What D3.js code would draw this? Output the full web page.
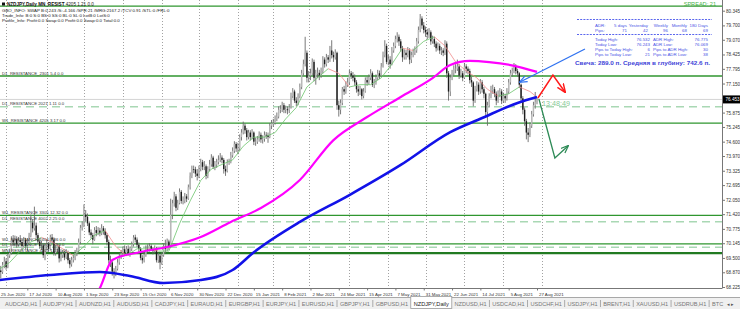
<!DOCTYPE html>
<html lang="en">
<head>
<meta charset="UTF-8">
<title>NZDJPY,Daily</title>
<script src="https://d3js.org/d3.v7.min.js"></script>
<style>
  body { margin: 0; padding: 0; background: #fff; }
  svg { display: block; font-family: "Liberation Sans", Arial, sans-serif; }
</style>
</head>
<body>
<div id="chart"></div>
<script>
// ---- data ----
// daily bars, first bar = 25 Jun 2020, last = 27 Aug 2021 (open = previous close)
const firstOpen = 69.10;
const closes = [
  68.95,68.88,69.20,69.35,69.10,69.60,69.72,70.30,70.18,70.32,
  70.10,70.28,70.20,70.02,70.30,70.00,70.12,70.48,71.05,70.80,
  70.92,70.50,70.22,70.02,70.05,69.62,70.00,70.12,69.90,70.40,
  70.30,69.72,69.90,70.02,69.48,69.62,69.70,69.52,69.72,69.40,
  69.22,69.42,69.50,69.70,69.80,70.20,70.82,70.92,71.40,71.30,
  71.02,70.62,70.50,70.30,70.72,70.60,70.70,70.58,70.80,70.68,
  70.50,70.20,69.40,69.30,68.90,68.82,69.02,69.30,69.58,69.70,
  69.88,69.70,69.90,69.72,69.90,70.10,70.40,70.30,70.08,69.90,
  69.50,69.40,69.62,69.90,69.88,70.02,69.90,69.80,69.92,69.40,
  69.60,69.30,69.62,70.00,69.90,70.22,70.02,71.40,71.90,72.20,
  71.70,71.90,72.40,72.00,72.02,72.20,72.10,72.60,73.10,73.40,
  73.38,73.20,73.10,73.40,73.70,73.50,73.52,73.10,73.40,73.60,
  73.90,73.50,73.60,73.70,73.80,73.90,73.80,73.40,73.30,73.70,
  73.72,74.00,74.20,74.50,74.30,74.30,74.80,75.00,75.30,75.10,
  74.80,75.00,74.80,75.00,74.60,74.60,74.70,74.90,74.70,74.72,
  74.90,74.88,74.80,75.30,75.40,75.42,75.60,75.70,76.00,76.02,
  76.20,76.00,76.02,75.98,76.10,76.60,76.80,76.40,76.30,76.60,
  77.00,77.60,78.00,78.50,77.40,77.50,77.60,78.10,77.40,77.60,
  77.62,77.50,77.70,78.20,78.00,78.30,78.20,78.60,78.40,78.30,
  78.50,76.20,76.00,76.30,76.90,76.80,77.10,77.20,77.60,77.50,
  77.40,77.20,76.90,76.80,76.90,76.60,76.80,77.30,77.20,77.40,
  77.60,77.10,77.20,77.40,77.60,77.50,77.90,78.40,78.80,78.10,
  78.20,78.00,78.60,78.80,79.10,79.20,79.00,78.70,78.30,78.50,
  78.40,78.60,78.20,78.40,78.50,78.60,79.00,79.50,80.00,79.70,
  79.50,79.40,79.30,79.40,79.00,79.10,78.90,78.70,78.80,78.60,
  78.60,78.50,78.90,77.60,76.80,77.40,77.60,77.80,77.80,77.90,
  77.50,77.60,77.40,77.90,77.80,77.70,77.30,77.20,76.40,76.90,
  77.10,76.80,77.20,76.90,76.70,75.90,76.20,76.60,76.90,76.90,
  76.70,76.40,76.70,76.80,76.40,76.60,76.50,76.80,77.20,77.60,
  77.70,77.90,77.70,77.60,77.10,76.50,76.00,75.50,75.00,74.90,
  75.30,75.80,76.20,76.35,76.45
];
const highs = [
  69.30,69.15,69.32,69.55,69.48,69.70,69.90,70.45,70.50,70.48,
  70.45,70.42,70.50,70.30,70.42,70.38,70.28,70.60,71.40,71.20,
  71.75,71.05,70.60,70.35,70.25,70.12,70.15,70.30,70.20,70.52,
  70.55,70.40,70.05,70.15,70.10,69.75,69.85,69.80,69.88,69.82,
  69.50,69.55,69.65,69.85,69.95,70.35,70.95,71.10,71.85,71.60,
  71.45,71.10,70.75,70.60,70.85,70.90,70.85,70.82,70.98,70.90,
  70.80,70.60,70.30,69.60,69.40,69.05,69.15,69.45,69.70,69.85,
  70.00,70.05,70.02,70.05,70.00,70.22,70.50,70.52,70.40,70.18,
  69.98,69.62,69.75,70.05,70.10,70.15,70.10,69.98,70.05,69.98,
  69.72,69.68,69.75,70.15,70.30,70.35,70.30,72.10,72.05,72.40,
  72.30,72.05,72.55,72.48,72.20,72.35,72.30,72.72,73.25,73.55,
  73.55,73.50,73.40,73.55,73.85,73.80,73.75,73.60,73.52,73.80,
  74.05,73.98,73.75,73.85,74.00,74.10,74.00,73.88,73.55,73.82,
  73.85,74.15,74.35,74.62,74.58,74.55,74.92,75.15,75.48,75.40,
  75.20,75.12,75.10,75.15,75.05,74.78,74.85,75.05,75.00,74.88,
  75.05,75.02,75.00,75.42,75.55,75.60,75.75,75.88,76.15,76.20,
  76.35,76.30,76.18,76.15,76.25,76.75,76.95,76.88,76.55,76.72,
  77.15,77.75,78.20,79.20,78.60,77.70,77.80,78.25,78.20,77.75,
  77.85,77.75,77.85,78.35,78.30,78.45,78.40,78.80,79.05,78.55,
  78.65,78.55,76.40,76.45,77.00,77.05,77.25,77.40,77.75,77.70,
  77.65,77.55,77.30,77.05,77.05,76.95,76.95,77.42,77.45,77.55,
  77.78,77.68,77.35,77.55,77.75,77.72,78.05,78.55,79.05,78.90,
  78.40,78.35,78.75,78.95,79.25,79.40,79.30,79.10,78.80,78.65,
  78.62,78.75,78.70,78.55,78.68,78.78,79.15,79.65,80.20,80.10,
  79.85,79.65,79.55,79.58,79.48,79.25,79.20,79.00,78.95,78.90,
  78.75,78.70,79.05,79.00,77.70,77.55,77.75,77.95,78.00,78.20,
  78.00,77.80,77.70,78.05,78.00,77.90,77.80,77.45,77.25,77.05,
  77.25,77.20,77.35,77.30,77.00,76.75,76.35,76.72,77.05,77.10,
  77.00,76.80,76.85,76.95,76.90,76.75,76.70,76.95,77.35,77.75,
  77.85,78.05,78.00,77.80,77.65,77.15,76.60,76.10,75.60,75.20,
  75.45,75.95,76.35,76.78,76.53
];
const lows = [
  68.62,68.60,68.80,69.05,68.98,69.05,69.50,69.65,70.05,70.02,
  69.95,70.00,70.08,69.88,69.95,69.90,69.85,70.05,70.40,70.62,
  70.70,70.38,70.10,69.90,69.85,69.50,69.40,69.85,69.78,69.82,
  70.15,69.60,69.60,69.75,69.30,69.35,69.50,69.40,69.45,69.25,
  69.05,69.12,69.30,69.40,69.58,69.70,70.10,70.70,70.85,71.10,
  70.90,70.50,70.35,70.10,70.25,70.45,70.50,70.45,70.50,70.52,
  70.35,70.05,69.25,69.10,68.72,68.60,68.70,68.95,69.20,69.45,
  69.55,69.58,69.60,69.60,69.55,69.80,70.00,70.18,69.98,69.75,
  69.40,69.25,69.30,69.55,69.75,69.78,69.80,69.65,69.70,69.30,
  69.28,69.00,69.20,69.55,69.70,69.80,69.85,69.95,71.20,71.75,
  71.55,71.60,71.85,71.88,71.85,71.90,71.95,72.05,72.50,73.00,
  73.22,73.05,72.90,73.00,73.30,73.35,73.35,72.95,73.00,73.30,
  73.50,73.40,73.35,73.45,73.60,73.70,73.65,73.20,73.10,73.25,
  73.58,73.65,73.90,74.10,74.15,74.05,74.20,74.65,74.92,74.95,
  74.65,74.70,74.65,74.70,74.45,74.42,74.50,74.60,74.55,74.52,
  74.60,74.72,74.55,74.75,75.15,75.25,75.35,75.50,75.62,75.85,
  75.90,75.85,75.85,75.80,75.85,76.05,76.50,76.30,76.15,76.20,
  76.50,76.90,77.50,77.90,77.20,77.20,77.30,77.50,77.25,77.10,
  77.40,77.30,77.40,77.60,77.85,77.90,78.05,78.10,78.25,78.10,
  78.20,76.00,75.70,75.80,76.20,76.65,76.70,77.00,77.10,77.35,
  77.25,77.05,76.75,76.60,76.65,76.45,76.50,76.75,77.05,77.10,
  77.30,77.00,76.95,77.10,77.30,77.35,77.45,77.85,78.30,78.00,
  77.95,77.80,77.95,78.50,78.70,78.95,78.80,78.55,78.10,78.20,
  78.20,78.30,78.00,78.05,78.30,78.40,78.50,78.90,79.40,79.55,
  79.35,79.20,79.10,79.15,78.85,78.90,78.75,78.55,78.60,78.45,
  78.40,78.35,78.40,77.40,76.40,76.60,77.30,77.50,77.60,77.70,
  77.35,77.40,77.25,77.35,77.60,77.55,77.15,77.00,76.15,76.30,
  76.80,76.65,76.70,76.75,76.50,75.70,75.30,76.10,76.50,76.70,
  76.55,76.20,76.30,76.55,76.25,76.30,76.30,76.40,76.70,77.10,
  77.45,77.60,77.55,77.45,76.95,76.35,75.80,75.30,74.70,74.58,
  74.80,75.20,75.70,76.05,76.24
];
const lastPrice = "76.453";

// time labels, one every 16 bars
const dateLabels = ["25 Jun 2020","17 Jul 2020","10 Aug 2020","1 Sep 2020","23 Sep 2020",
  "15 Oct 2020","6 Nov 2020","30 Nov 2020","22 Dec 2020","15 Jan 2021","8 Feb 2021",
  "2 Mar 2021","24 Mar 2021","15 Apr 2021","7 May 2021","31 May 2021","22 Jun 2021",
  "14 Jul 2021","5 Aug 2021","27 Aug 2021"];
// first bar of each month (bar index) -> dotted grid
const monthGrid = [4, 27, 48, 70, 92, 113, 135, 155, 175, 198, 220, 241, 263, 285, 307];
const priceTicks = ["80.345","79.700","79.070","78.425","77.795","77.150","76.520","75.875",
  "75.245","74.600","73.970","73.325","72.695","72.050","71.420","70.775","70.145",
  "69.500","68.870","68.225"];

// moving averages, [bar, price]
const maSlow = [[0,68.53],[29,68.75],[57,68.88],[74,68.71],[93,68.40],[114,68.53],[132,68.97],
  [144,69.75],[170,71.08],[198,72.26],[227,73.58],[255,75.02],[273,75.64],[293,76.30],[304,76.56]];
const maMid = [[46,67.26],[57,68.18],[64,69.41],[80,69.76],[95,69.98],[114,70.42],[131,71.08],
  [148,71.69],[170,72.92],[189,74.67],[208,75.68],[227,76.56],[245,77.39],[255,77.96],
  [266,78.14],[277,78.09],[289,77.96],[304,77.66]];
const maFast = [[0,69.0],[6,69.3],[12,69.8],[18,70.2],[24,70.4],[30,70.2],[36,69.9],[42,69.6],
  [48,70.0],[54,70.5],[60,70.7],[66,70.0],[72,69.6],[78,69.9],[84,69.9],[90,69.8],[96,69.8],
  [102,71.0],[108,72.0],[114,72.9],[120,73.4],[126,73.6],[132,73.8],[138,74.4],[144,74.8],
  [150,74.8],[156,75.0],[162,75.6],[168,76.1],[174,77.0],[180,77.4],[186,77.8],[192,77.6],
  [198,77.0],[204,77.1],[210,77.1],[216,77.4],[222,78.0],[228,78.7],[234,78.6],[240,79.0],
  [246,79.2],[252,78.8],[258,78.1],[264,77.7],[270,77.4],[276,76.9],[282,76.6],[288,76.7],
  [294,77.0],[300,76.8],[304,76.55]];

// support / resistance levels
const solidLevels = [80.55, 77.48, 75.41, 71.37, 70.12];
const majorLevels = [69.71];
const dashedLevels = [76.13, 71.09, 69.97];
const levelLabels = [
  ["D1_RESISTANCE_2301 5.4 0.0", 77.48], ["D1_RESISTANCE 2021 1.11 0.0", 76.13],
  ["W1_RESISTANCE 4205 3.17 0.0", 75.41], ["W1_RESISTANCE 3305 12.32 0.0", 71.37],
  ["D1_RESISTANCE 4002 2.25 0.0", 71.09], ["W1_RESISTANCE 2404 1.86 0.0", 70.12],
  ["D1_RESISTANCE 1207 0.92 0.0", 69.97], ["MN_RESISTANCE 4205 1.21 0.0", 69.71]];

// hand-drawn arrows, [bar, price]
const arrowBlue = [[331.1,78.665],[294.4,77.217]];
const arrowRed = [[304.5,76.515],[313,77.524],[319.8,76.78]];
const arrowGreen = [[305.1,76.471],[314.1,73.884],[321.5,74.41]];

// info panel
const adrHead = ["5 days","Yesterday","Weekly","Monthly","180 Days"];
const adrPips = ["71","42","96","68","69"];
const infoRows = [
  ["Today High:","76.532","ADR High:","76.775"],
  ["Today Low:","76.243","ADR Low:","76.069"],
  ["Pips to Today High:","6","Pips to ADR High:","30"],
  ["Pips to Today Low:","21","Pips to ADR Low:","38"]];
const candleLine = "Свеча: 289.0 п. Средняя в глубину: 742.6 п.";
const headerLines = [
  "GBO_INFO: SWAP B:0.243 /S:-4.166 /SPR:21 /MRG:2167.2 /TCV:0.91 /STL:0 /FRL:0",
  "Trade_Info: B:0 S:0 BS:0 SS:0 BL:0 SL:0 LotB:0 LotS:0",
  "Profile_Info: Profit:0.0 Swap:0.0 Profit:0.0 Swap:0.0 Total:0.0"];
const tabs = ["AUDCAD,H1","AUDJPY,H1","AUDNZD,H1","AUDUSD,H1","CADJPY,H1","EURAUD,H1",
  "EURGBP,H1","EURJPY,H1","EURUSD,H1","GBPJPY,H1","GBPUSD,H1","NZDJPY,Daily","NZDUSD,H1",
  "USDCAD,H1","USDCHF,H1","USDJPY,H1","BRENT,H1","XAUUSD,H1","USDRUB,H1","BTC"];
const activeTab = "NZDJPY,Daily";

// ---- drawing ----
const W = 740, H = 309;
const plotR = 722, plotB = 288;

const x = d3.scaleLinear().domain([0, 304]).range([-1, 537]);
const y = d3.scaleLinear().domain([68.225, 80.345]).range([287, 10.7]);

const svg = d3.select("#chart").append("svg").attr("width", W).attr("height", H);
svg.append("rect").attr("width", W).attr("height", H).attr("fill", "#fff");

const defs = svg.append("defs");
defs.append("clipPath").attr("id", "plotClip")
  .append("rect").attr("x", 0).attr("y", 0).attr("width", plotR).attr("height", plotB);
[["hBlue","#2f72f0"],["hRed","#ff1a1a"],["hGreen","#2e8b57"]].forEach(([id, col]) => {
  defs.append("marker").attr("id", id).attr("viewBox", "0 0 10 10").attr("refX", 9).attr("refY", 5)
    .attr("markerWidth", 6).attr("markerHeight", 6).attr("orient", "auto")
    .append("path").attr("d", "M0,1 L10,5 L0,9").attr("fill", "none").attr("stroke", col).attr("stroke-width", 1.6);
});

const g = svg.append("g").attr("clip-path", "url(#plotClip)");

// dotted month grid
g.selectAll("line.vgrid").data(monthGrid).join("line")
  .attr("x1", d => Math.round(x(d)) + 0.5).attr("x2", d => Math.round(x(d)) + 0.5)
  .attr("y1", 0).attr("y2", plotB)
  .attr("stroke", "#8a8a8a").attr("stroke-width", 0.8).attr("stroke-dasharray", "1,2");

// levels
g.selectAll("line.dash").data(dashedLevels).join("line")
  .attr("x1", 0).attr("x2", plotR).attr("y1", d => y(d)).attr("y2", d => y(d))
  .attr("stroke", "#a9d8b4").attr("stroke-width", 1.6).attr("stroke-dasharray", "8,5");
g.selectAll("line.solid").data(solidLevels).join("line")
  .attr("x1", 0).attr("x2", plotR).attr("y1", d => y(d)).attr("y2", d => y(d))
  .attr("stroke", "#2f962f").attr("stroke-width", 1.3);
g.selectAll("line.major").data(majorLevels).join("line")
  .attr("x1", 0).attr("x2", plotR).attr("y1", d => y(d)).attr("y2", d => y(d))
  .attr("stroke", "#217a21").attr("stroke-width", 2.4);

// current price line
g.append("line").attr("x1", 0).attr("x2", plotR)
  .attr("y1", y(+lastPrice)).attr("y2", y(+lastPrice))
  .attr("stroke", "#c8c8c8").attr("stroke-width", 0.8);

// candles
const bars = closes.map((c, i) => ({ i, o: i ? closes[i - 1] : firstOpen, h: highs[i], l: lows[i], c }));
g.selectAll("line.wick").data(bars).join("line")
  .attr("x1", d => x(d.i)).attr("x2", d => x(d.i))
  .attr("y1", d => y(d.h)).attr("y2", d => y(d.l))
  .attr("stroke", "#6a6a6a").attr("stroke-width", 0.9);
g.selectAll("rect.body").data(bars).join("rect")
  .attr("x", d => x(d.i) - 0.7).attr("width", 1.4)
  .attr("y", d => y(Math.max(d.o, d.c)))
  .attr("height", d => Math.max(0.7, Math.abs(y(d.o) - y(d.c))))
  .attr("fill", d => d.c >= d.o ? "#b8b8b8" : "#1c1c1c");

// moving averages
const line = d3.line().x(d => x(d[0])).y(d => y(d[1])).curve(d3.curveMonotoneX);
for (let k = 1; k < maFast.length; k++) {
  const seg = [maFast[k - 1], maFast[k]];
  g.append("path").attr("d", d3.line().x(d => x(d[0])).y(d => y(d[1]))(seg))
    .attr("fill", "none").attr("stroke-width", 0.8)
    .attr("stroke", seg[1][1] >= seg[0][1] ? "#6cc46c" : "#f08a8a");
}
g.append("path").attr("d", line(maMid)).attr("fill", "none")
  .attr("stroke", "#ff00ff").attr("stroke-width", 2.2);
g.append("path").attr("d", line(maSlow)).attr("fill", "none")
  .attr("stroke", "#1212e8").attr("stroke-width", 2.6);

// level labels (nudged up so close levels don't collide)
const lblY = levelLabels.map(d => y(d[1]) - 1.5);
const order = d3.range(lblY.length).sort((a, b) => lblY[b] - lblY[a]);
for (let k = 1; k < order.length; k++) {
  const prev = lblY[order[k - 1]], cur = order[k];
  if (prev - lblY[cur] < 4.8) lblY[cur] = prev - 4.8;
}
g.selectAll("text.lvl").data(levelLabels).join("text")
  .attr("x", 2).attr("y", (d, i) => lblY[i])
  .attr("font-size", 4.3).attr("fill", "#333").text(d => d[0]);

// arrows
const aLine = d3.line().x(d => x(d[0])).y(d => y(d[1]));
g.append("path").attr("d", aLine(arrowBlue)).attr("fill", "none")
  .attr("stroke", "#2f72f0").attr("stroke-width", 1.3).attr("marker-end", "url(#hBlue)");
g.append("path").attr("d", aLine(arrowRed)).attr("fill", "none")
  .attr("stroke", "#ff1a1a").attr("stroke-width", 1.5).attr("marker-end", "url(#hRed)");
g.append("path").attr("d", aLine(arrowGreen)).attr("fill", "none")
  .attr("stroke", "#2e8b57").attr("stroke-width", 1.3).attr("marker-end", "url(#hGreen)");

// countdown
g.append("text").attr("x", x(304) + 5).attr("y", y(+lastPrice) + 6.5)
  .attr("font-size", 7.2).attr("fill", "#86c995").text("13:48:49");

// header texts
svg.append("rect").attr("x", 2).attr("y", 2.5).attr("width", 3).attr("height", 3).attr("fill", "#111");
const h0 = svg.append("text").attr("x", 7).attr("y", 6.3).attr("font-size", 4.6).attr("fill", "#222");
h0.append("tspan").attr("font-weight", "bold").attr("fill", "#111").text("NZDJPY,Daily MN_RESIST");
h0.append("tspan").text("  4205 1.21 0.0");
svg.selectAll("text.hdr").data(headerLines).join("text")
  .attr("x", 2).attr("y", (d, i) => 12 + i * 5.2).attr("font-size", 4.4).attr("fill", "#222")
  .text(d => d);

svg.append("text").attr("x", 716).attr("y", 6).attr("text-anchor", "end")
  .attr("font-size", 5.6).attr("fill", "#45b045").text("SPREAD: 21");

// info panel
const panel = svg.append("g").attr("fill", "#4a55e6").attr("font-size", 4.4);
[19.5, 34.5].forEach(yy => svg.append("line").attr("x1", 577).attr("x2", 712)
  .attr("y1", yy).attr("y2", yy).attr("stroke", "#5a66ee").attr("stroke-width", 1.1)
  .attr("stroke-dasharray", "2,1.2"));
panel.append("text").attr("x", 595).attr("y", 26.5).text("ADR:");
panel.append("text").attr("x", 595).attr("y", 31.5).text("Pips:");
const colRight = [627, 648, 668, 687, 708];
adrHead.forEach((t, k) => panel.append("text").attr("x", colRight[k]).attr("y", 26.5)
  .attr("text-anchor", "end").text(t));
adrPips.forEach((t, k) => panel.append("text").attr("x", colRight[k]).attr("y", 31.5)
  .attr("text-anchor", "end").text(t));
infoRows.forEach((r, k) => {
  const yy = 40.7 + k * 5.1;
  panel.append("text").attr("x", 595).attr("y", yy).text(r[0]);
  panel.append("text").attr("x", 650).attr("y", yy).attr("text-anchor", "end").text(r[1]);
  panel.append("text").attr("x", 653).attr("y", yy).text(r[2]);
  panel.append("text").attr("x", 708).attr("y", yy).attr("text-anchor", "end").text(r[3]);
});
svg.append("text").attr("x", 575).attr("y", 64.5).attr("font-size", 5.6).attr("font-weight", "bold")
  .attr("fill", "#3f45d8").attr("textLength", 135).attr("lengthAdjust", "spacingAndGlyphs")
  .text(candleLine);

// price axis
svg.append("line").attr("x1", plotR + 0.5).attr("x2", plotR + 0.5).attr("y1", 0).attr("y2", plotB)
  .attr("stroke", "#777").attr("stroke-width", 1);
const yAxis = svg.append("g").attr("transform", `translate(${plotR + 0.5},0)`)
  .call(d3.axisRight(y).tickValues(priceTicks.map(Number)).tickSize(2.5)
    .tickFormat((d, i) => priceTicks[i]));
yAxis.select(".domain").remove();
yAxis.selectAll("line").attr("stroke", "#777");
yAxis.selectAll("text").attr("font-size", 4.6).attr("fill", "#333").attr("x", 3.5)
  .attr("font-family", "Liberation Sans, Arial, sans-serif");
svg.append("rect").attr("x", plotR + 1).attr("y", y(+lastPrice) - 4).attr("width", 17).attr("height", 8)
  .attr("fill", "#000");
svg.append("text").attr("x", plotR + 3.5).attr("y", y(+lastPrice) + 1.7).attr("font-size", 4.6)
  .attr("fill", "#fff").text(lastPrice);

// time axis
svg.append("line").attr("x1", 0).attr("x2", plotR + 0.5).attr("y1", plotB + 0.5).attr("y2", plotB + 0.5)
  .attr("stroke", "#777");
const xAxis = svg.append("g").attr("transform", `translate(0,${plotB + 0.5})`)
  .call(d3.axisBottom(x).tickValues(dateLabels.map((_, k) => k * 16)).tickSize(2)
    .tickFormat((d, k) => dateLabels[k]));
xAxis.select(".domain").remove();
xAxis.selectAll("line").attr("stroke", "#777");
xAxis.selectAll("text").attr("font-size", 4.4).attr("fill", "#333").attr("text-anchor", "start")
  .attr("dx", 1.5).attr("y", 4).attr("dy", "0.7em")
  .attr("font-family", "Liberation Sans, Arial, sans-serif");

// tab bar
const tb = svg.append("g");
tb.append("rect").attr("x", 0).attr("y", 297).attr("width", W).attr("height", 12).attr("fill", "#f0f0f0");
tb.append("line").attr("x1", 0).attr("x2", W).attr("y1", 297.5).attr("y2", 297.5).attr("stroke", "#a8a8a8");
const tabTexts = tabs.map(t => tb.append("text").attr("y", 305.5).attr("font-size", 5.6)
  .attr("fill", t === activeTab ? "#222" : "#777").text(t));
const tw = tabTexts.map(n => n.node().getComputedTextLength());
const gap = (712 - 5 - d3.sum(tw.slice(0, -1))) / (tabs.length - 1);
let tx = 5;
tabs.forEach((t, k) => {
  tabTexts[k].attr("x", tx);
  if (t === activeTab) {
    tb.insert("rect", "text").attr("x", tx - 3).attr("y", 296.5).attr("width", tw[k] + 6).attr("height", 12)
      .attr("fill", "#fff").attr("stroke", "#999").attr("stroke-width", 0.8);
  } else if (k > 0 && tabs[k - 1] !== activeTab) {
    tb.append("line").attr("x1", tx - gap / 2).attr("x2", tx - gap / 2).attr("y1", 300).attr("y2", 307)
      .attr("stroke", "#aaa");
  }
  tx += tw[k] + gap;
});
tb.append("text").attr("x", 727).attr("y", 305.5).attr("font-size", 5).attr("fill", "#555").text("◂ ▸");
</script>
</body>
</html>
